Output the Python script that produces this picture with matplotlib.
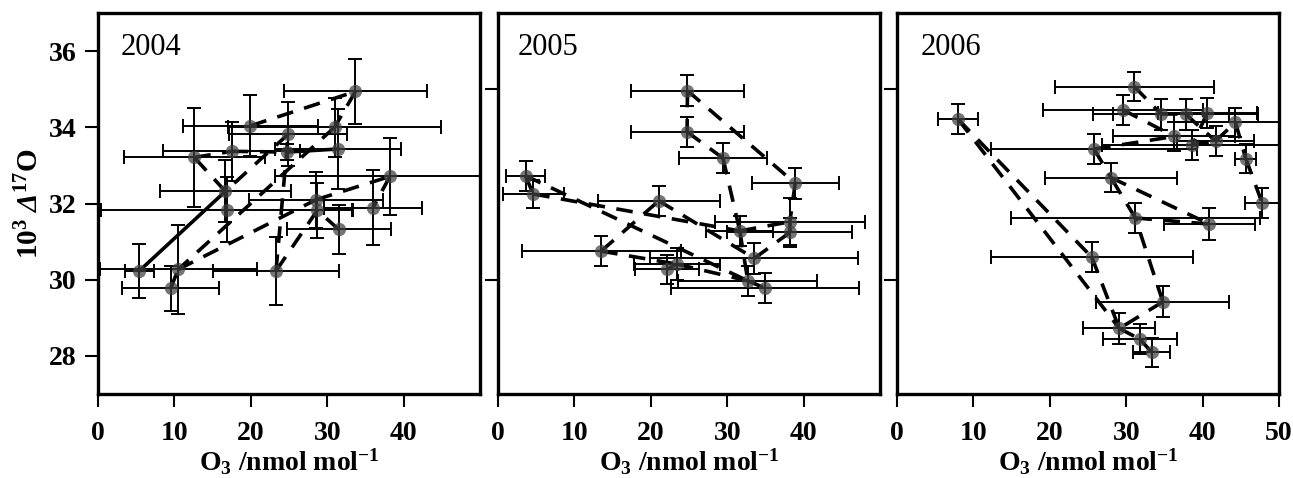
import matplotlib
matplotlib.use('Agg')
import matplotlib.pyplot as plt
from matplotlib.transforms import blended_transform_factory

plt.rcParams['font.family'] = ['Liberation Serif', 'DejaVu Serif']
plt.rcParams['font.weight'] = 'bold'
plt.rcParams['mathtext.fontset'] = 'custom'
plt.rcParams['mathtext.rm'] = 'Liberation Serif:italic:bold'
plt.rcParams['mathtext.it'] = 'Liberation Serif:italic:bold'
plt.rcParams['mathtext.bf'] = 'Liberation Serif:bold'
plt.rcParams['mathtext.default'] = 'bf'

years = ['2004', '2005', '2006']

# ---- 2004 ----
x04    = [5.4, 9.5, 10.5, 23.3, 12.6, 17.5, 19.96, 24.9, 24.7, 30.96, 31.4, 33.7, 38.2, 28.55, 28.7, 36.0, 16.9, 31.5, 16.67]
y04    = [30.23, 29.77, 30.27, 30.23, 33.21, 33.37, 34.04, 33.82, 33.35, 34.0, 33.43, 34.94, 32.71, 32.1, 31.82, 31.89, 31.84, 31.32, 32.32]
xerr04 = [1.9, 6.4, 10.3, 8.2, 9.2, 9.0, 8.8, 7.7, 0.0, 14.0, 8.2, 9.4, 15.0, 8.8, 4.6, 6.4, 16.5, 6.8, 8.6]
yerr04 = [0.72, 0.6, 1.17, 0.9, 1.29, 0.77, 0.8, 0.84, 0.22, 0.77, 1.05, 0.85, 1.02, 0.73, 0.72, 0.98, 0.85, 0.64, 0.81]
dash04 = [(6, 11), (11, 9), (9, 2), (1, 2), (2, 13), (13, 12), (12, 15), (17, 14), (14, 3), (3, 7), (7, 18), (18, 4), (4, 5), (5, 8)]
solid04 = [(0, 18), (8, 10)]

# ---- 2005 ----
x05    = [3.6, 4.6, 13.5, 21.05, 24.8, 24.75, 29.45, 38.9, 38.2, 38.2, 31.65, 33.55, 23.4, 22.1, 32.7, 34.95]
y05    = [32.73, 32.25, 30.75, 32.07, 34.96, 33.88, 33.19, 32.53, 31.52, 31.24, 31.28, 30.56, 30.41, 30.27, 29.97, 29.78]
xerr05 = [2.5, 4.0, 10.4, 8.0, 7.35, 7.4, 5.7, 5.7, 9.8, 8.2, 4.4, 13.6, 5.6, 4.2, 9.1, 12.3]
yerr05 = [0.39, 0.37, 0.4, 0.39, 0.4, 0.39, 0.4, 0.41, 0.62, 0.39, 0.39, 0.4, 0.42, 0.39, 0.39, 0.39]
dash05 = [(4, 5), (4, 7), (5, 6), (6, 10), (7, 8), (8, 9), (10, 8), (0, 1), (0, 14), (1, 10),
          (2, 3), (3, 11), (11, 9), (10, 14), (14, 15), (2, 12), (12, 13), (12, 14)]
solid05 = []

# ---- 2006 ----
x06    = [8.0, 31.05, 29.55, 34.6, 37.8, 40.6, 44.3, 36.3, 38.65, 41.7, 45.65, 25.8, 28.0, 47.8, 31.2, 40.9, 25.5, 34.8, 29.1, 31.8, 33.35]
y06    = [34.21, 35.07, 34.46, 34.34, 34.34, 34.37, 34.13, 33.76, 33.53, 33.64, 33.18, 33.43, 32.68, 32.01, 31.62, 31.46, 30.59, 29.42, 28.72, 28.44, 28.09]
xerr06 = [2.6, 10.4, 10.45, 8.9, 9.5, 6.5, 8.1, 8.0, 11.85, 5.0, 1.4, 13.5, 8.6, 2.3, 16.3, 5.9, 13.2, 8.7, 4.7, 4.8, 2.4]
yerr06 = [0.39, 0.39, 0.4, 0.4, 0.4, 0.4, 0.38, 0.39, 0.39, 0.4, 0.38, 0.39, 0.38, 0.4, 0.4, 0.41, 0.39, 0.41, 0.41, 0.39, 0.39]
dash06 = [(0, 16), (16, 18), (0, 18), (18, 19), (19, 20), (17, 18), (17, 14), (14, 12), (12, 15), (14, 15),
          (11, 12), (11, 7), (2, 7), (1, 3), (3, 4), (4, 9), (8, 9), (9, 6), (6, 10), (10, 13), (5, 8)]
solid06 = []

xticks_list = [[0, 10, 20, 30, 40], [0, 10, 20, 30, 40], [0, 10, 20, 30, 40, 50]]
yticks_first = [28, 30, 32, 34, 36]
yticks_other = [30, 35]

datasets = [
    (x04, y04, xerr04, yerr04, dash04, solid04),
    (x05, y05, xerr05, yerr05, dash05, solid05),
    (x06, y06, xerr06, yerr06, dash06, solid06),
]

fig = plt.figure(figsize=(12.93, 4.78), dpi=100)
lefts = [98, 498, 897]
W, H = 1293.0, 478.0
year_x = [0.058, 0.052, 0.063]

for k, (left, (xs, ys, xe, ye, dashes, solids)) in enumerate(zip(lefts, datasets)):
    ax = fig.add_axes([left / W, (H - 394) / H, 382 / W, 381 / H])
    ax.errorbar(xs, ys, xerr=xe, yerr=ye, fmt='none', ecolor='black',
                elinewidth=1.4, capsize=4.7, capthick=1.4, zorder=2)
    for (i, j) in dashes:
        ax.plot([xs[i], xs[j]], [ys[i], ys[j]], color='black', lw=2.6,
                ls=(0, (4.6, 3.2)), zorder=3)
    for (i, j) in solids:
        ax.plot([xs[i], xs[j]], [ys[i], ys[j]], color='black', lw=2.6,
                ls='-', zorder=3)
    ax.plot(xs, ys, 'o', color='#404040', alpha=0.72, ms=9.5, mec='none', zorder=4)

    ax.set_xlim(0, 50)
    ax.set_ylim(27, 37)
    ax.set_xticks(xticks_list[k])
    if k == 0:
        ax.set_yticks(yticks_first)
        ax.set_ylabel(r'10$^{3}$ $\mathit{\Delta}^{17}$O', fontsize=21, fontweight='bold', labelpad=3)
    else:
        ax.set_yticks(yticks_other)
        ax.set_yticklabels([])
    for s in ax.spines.values():
        s.set_linewidth(2.4)
    ax.tick_params(axis='both', direction='out', length=9.5, width=1.5, labelsize=20)
    ax.tick_params(axis='x', pad=10)
    ax.tick_params(axis='y', pad=6)
    tr = blended_transform_factory(ax.transAxes, fig.transFigure)
    ax.text(0.5, (H - 471) / H, r'O$_{3}$ /nmol mol$^{\mathregular{-1}}$', transform=tr,
            fontsize=20, fontweight='bold', ha='center', va='baseline')
    ax.text(year_x[k], 0.89, years[k], transform=ax.transAxes, fontsize=22,
            fontweight='normal', va='baseline', ha='left')

fig.savefig('out.png', dpi=100)
